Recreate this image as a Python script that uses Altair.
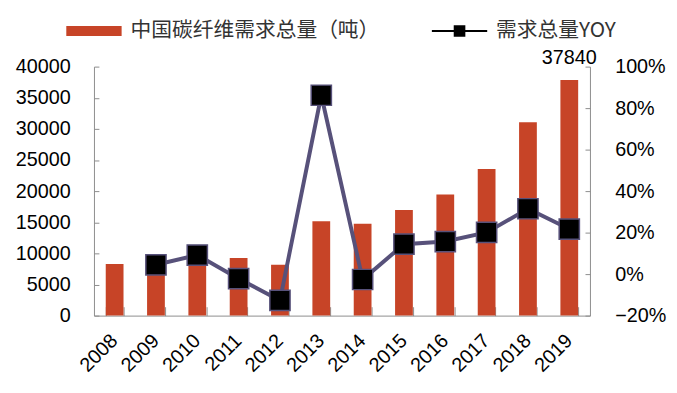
import altair as alt
import pandas as pd

# ---- data ----
years = [str(y) for y in range(2008, 2020)]
demand = [8280, 8650, 9450, 9240, 8180, 15170, 14740, 16960, 19450, 23570, 31070, 37840]
yoy = [None, 0.045, 0.092, -0.022, -0.127, 0.862, -0.026, 0.144, 0.157, 0.201, 0.315, 0.217]
left_ticks = [0, 5000, 10000, 15000, 20000, 25000, 30000, 35000, 40000]
right_ticks = [-0.2, 0.0, 0.2, 0.4, 0.6, 0.8, 1.0]
bar_name = "中国碳纤维需求总量（吨）"
line_name = "需求总量YOY"
label_year = "2019"

df = pd.DataFrame({
    "year": years,
    "demand": demand,
    "yoy": yoy,
    "bar_series": bar_name,
    "line_series": line_name,
})

FONT = "Liberation Sans, Arial, Noto Sans CJK SC"
CJK = "Noto Sans CJK SC, Liberation Sans"
GRAY = "#8c8c8c"
RED = "#C74427"
LINE = "#57517A"
W, H = 502, 252

xscale = alt.Scale(paddingInner=0.57, paddingOuter=0.285)
left_dom = alt.Scale(domain=[0, 40000], nice=False, zero=False)
right_dom = alt.Scale(domain=[-0.2, 1.0], nice=False, zero=False)

bars = alt.Chart(df).mark_bar(color=RED).encode(
    x=alt.X("year:N", sort=years, scale=xscale, title=None,
            axis=alt.Axis(labelAngle=-45, labelAlign="right", labelBaseline="middle",
                          labelPadding=22, ticks=False, domainColor=GRAY, domainWidth=1,
                          labelFont=FONT, labelFontSize=20, labelColor="black")),
    y=alt.Y("demand:Q", scale=left_dom, title=None,
            axis=alt.Axis(orient="left", values=left_ticks, format="d", ticks=False, grid=False,
                          domainColor=GRAY, labelPadding=24, labelFont=FONT,
                          labelFontSize=20, labelColor="black")),
    color=alt.Color("bar_series:N", scale=alt.Scale(domain=[bar_name], range=[RED]),
                    legend=alt.Legend(orient="none", legendX=-28, legendY=-64, title=None,
                                      symbolType="M-1,-0.18H1V0.18H-1Z", symbolSize=3136,
                                      symbolStrokeWidth=0, padding=0, labelOffset=9,
                                      labelLimit=600,
                                      labelFont=CJK, labelFontSize=21, labelColor="#333333")),
)

# inward ticks for left axis and bottom axis
ticksA = alt.Chart(df).mark_bar(opacity=0).encode(
    x=alt.X("year:N", sort=years, scale=xscale, title=None,
            axis=alt.Axis(orient="top", offset=-H, labels=False, domain=False, ticks=True,
                          tickBand="extent", tickSize=9, tickColor=GRAY)),
    y=alt.Y("demand:Q", scale=left_dom, title=None,
            axis=alt.Axis(orient="right", offset=-W, labels=False, domain=False, ticks=True,
                          tickSize=5, tickColor=GRAY, values=left_ticks, grid=False)),
)

line = alt.Chart(df).transform_filter("isValid(datum.yoy)").mark_line(
    color=LINE, strokeWidth=4).encode(
    x=alt.X("year:N", sort=years, scale=xscale, axis=None),
    y=alt.Y("yoy:Q", scale=right_dom, title=None,
            axis=alt.Axis(orient="right", values=right_ticks, format=".0%", ticks=False,
                          grid=False, domainColor=GRAY, labelPadding=25, labelFont=FONT,
                          labelFontSize=20, labelColor="black")),
)

# inward ticks for right axis
ticksB = alt.Chart(df).transform_filter("isValid(datum.yoy)").mark_point(opacity=0).encode(
    x=alt.X("year:N", sort=years, scale=xscale, axis=None),
    y=alt.Y("yoy:Q", scale=right_dom, title=None,
            axis=alt.Axis(orient="left", offset=-W, labels=False, domain=False, ticks=True,
                          tickSize=5, tickColor=GRAY, values=right_ticks, grid=False)),
)

points = alt.Chart(df).transform_filter("isValid(datum.yoy)").mark_square(
    size=420, stroke=LINE, strokeWidth=1.5, opacity=1).encode(
    x=alt.X("year:N", sort=years, scale=xscale, axis=None),
    y=alt.Y("yoy:Q", scale=right_dom, axis=None),
    color=alt.Color("line_series:N", scale=alt.Scale(domain=[line_name], range=["black"]),
                    legend=alt.Legend(orient="none", legendX=342, legendY=-64, title=None,
                                      symbolType="M-1,-0.035H1V0.035H-1Z M-0.21,-0.21H0.21V0.21H-0.21Z",
                                      symbolSize=3136, symbolStrokeWidth=0, symbolOpacity=1,
                                      padding=0, labelOffset=9, labelLimit=600,
                                      labelFont=CJK, labelFontSize=21, labelColor="#333333")),
)

text = alt.Chart(df).transform_filter(alt.datum.year == label_year).mark_text(
    dy=-16, baseline="alphabetic", font=FONT, fontSize=20, color="black").encode(
    x=alt.X("year:N", sort=years, scale=xscale, axis=None),
    y=alt.Y("demand:Q", scale=left_dom, axis=None),
    text=alt.Text("demand:Q", format="d"),
)

chart = alt.layer(bars, ticksA, line, ticksB, points, text).resolve_scale(
    y="independent", color="independent"
).resolve_axis(x="independent").properties(
    width=W, height=H,
    autosize=alt.AutoSizeParams(type="none"),
    padding={"left": 87, "top": 57, "right": 80, "bottom": 76},
).configure_view(stroke=None)

chart.save("out.html", embed_options={"renderer": "svg", "actions": False})
